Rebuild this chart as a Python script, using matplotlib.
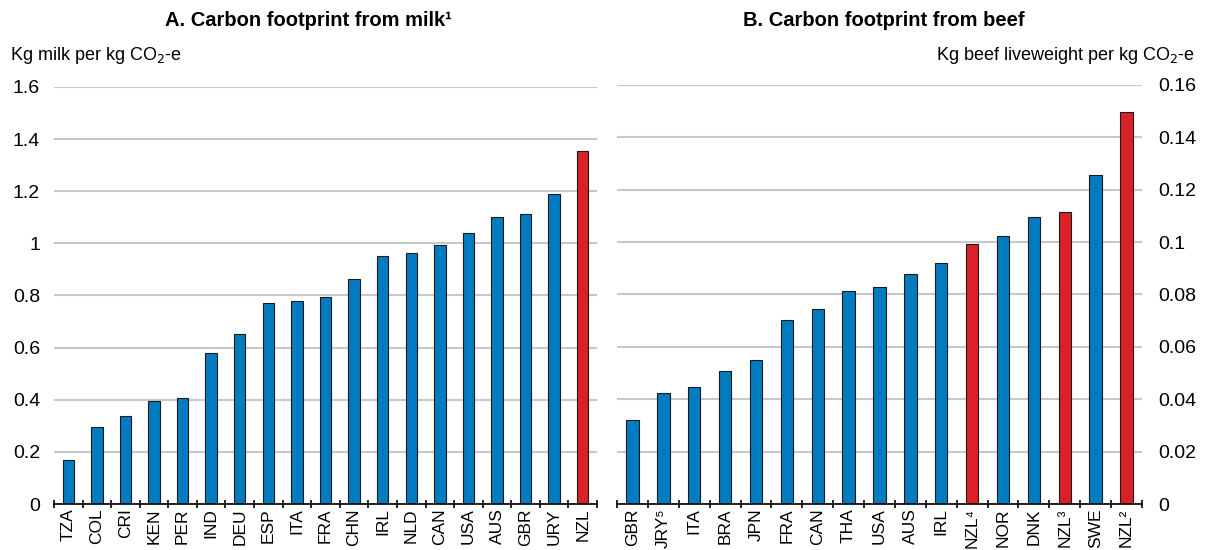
import matplotlib
matplotlib.use("Agg")
import matplotlib.pyplot as plt
import numpy as np

plt.rcParams['font.family'] = ['Liberation Sans', 'DejaVu Sans']

# Panel A: milk
milk_countries = ["TZA", "COL", "CRI", "KEN", "PER", "IND", "DEU", "ESP", "ITA", "FRA",
                  "CHN", "IRL", "NLD", "CAN", "USA", "AUS", "GBR", "URY", "NZL"]
milk_values = [0.168, 0.296, 0.339, 0.394, 0.405, 0.579, 0.653, 0.771, 0.777, 0.794,
               0.863, 0.953, 0.962, 0.992, 1.041, 1.101, 1.113, 1.191, 1.353]
milk_highlight = ["NZL"]

# Panel B: beef
beef_countries = ["GBR", "JRY⁵", "ITA", "BRA", "JPN", "FRA", "CAN", "THA", "USA", "AUS",
                  "IRL", "NZL⁴", "NOR", "DNK", "NZL³", "SWE", "NZL²"]
beef_values = [0.0321, 0.0423, 0.0447, 0.0506, 0.0549, 0.0704, 0.0743, 0.0813, 0.0828, 0.0880,
               0.0921, 0.0991, 0.1024, 0.1094, 0.1114, 0.1257, 0.1498]
beef_highlight = ["NZL⁴", "NZL³", "NZL²"]

milk_ticks = [0, 0.2, 0.4, 0.6, 0.8, 1.0, 1.2, 1.4, 1.6]
milk_ticklabels = ["0", "0.2", "0.4", "0.6", "0.8", "1", "1.2", "1.4", "1.6"]
beef_ticks = [0, 0.02, 0.04, 0.06, 0.08, 0.10, 0.12, 0.14, 0.16]
beef_ticklabels = ["0", "0.02", "0.04", "0.06", "0.08", "0.1", "0.12", "0.14", "0.16"]

BLUE = "#037BC1"
RED = "#DA2128"
GRID = "#C8C8C8"
FS = 14
XFS = 12.5

fig = plt.figure(figsize=(12.11, 5.5), dpi=100)
axA = fig.add_axes([0.0446, 0.0836, 0.4484, 0.7584])
axB = fig.add_axes([0.5095, 0.0836, 0.4335, 0.7620])


def draw_panel(ax, cats, vals, highlight, ticks, ticklabels, ymax):
    x = np.arange(len(cats))
    colors = [RED if c in highlight else BLUE for c in cats]
    ax.bar(x, vals, width=0.4, color=colors, edgecolor="#1a1a1a", linewidth=0.8, zorder=3)
    ax.set_xlim(-0.5, len(cats) - 0.5)
    ax.set_ylim(0, ymax)
    ax.set_yticks(ticks)
    ax.set_yticklabels(ticklabels, fontsize=FS)
    ax.yaxis.grid(True, color=GRID, linewidth=1.5, zorder=0)
    ax.set_axisbelow(True)
    for s in ["top", "right", "left"]:
        ax.spines[s].set_visible(False)
    ax.spines["bottom"].set_linewidth(1.2)
    ax.spines["bottom"].set_zorder(4)
    ax.tick_params(axis="y", length=0, pad=10)
    ax.set_xticks(x)
    ax.set_xticklabels(cats, rotation=90, fontsize=XFS)
    ax.tick_params(axis="x", which="major", length=0, pad=3)
    ax.set_xticks(np.arange(-0.5, len(cats)), minor=True)
    ax.tick_params(axis="x", which="minor", length=6, width=1.2, direction="inout")


draw_panel(axA, milk_countries, milk_values, milk_highlight, milk_ticks, milk_ticklabels, 1.6)
draw_panel(axB, beef_countries, beef_values, beef_highlight, beef_ticks, beef_ticklabels, 0.16)
axB.yaxis.tick_right()
axB.tick_params(axis="y", length=0, pad=12)

fig.text(0.255, 0.962, "A. Carbon footprint from milk¹", ha="center", va="center",
         fontsize=14.5, fontweight="bold")
fig.text(0.73, 0.962, "B. Carbon footprint from beef", ha="center", va="center",
         fontsize=14.5, fontweight="bold")
fig.text(0.008, 0.9, "Kg milk per kg CO$_2$-e", ha="left", va="center", fontsize=13)
fig.text(0.987, 0.9, "Kg beef liveweight per kg CO$_2$-e", ha="right", va="center", fontsize=13)

fig.savefig("out.png", dpi=100)
